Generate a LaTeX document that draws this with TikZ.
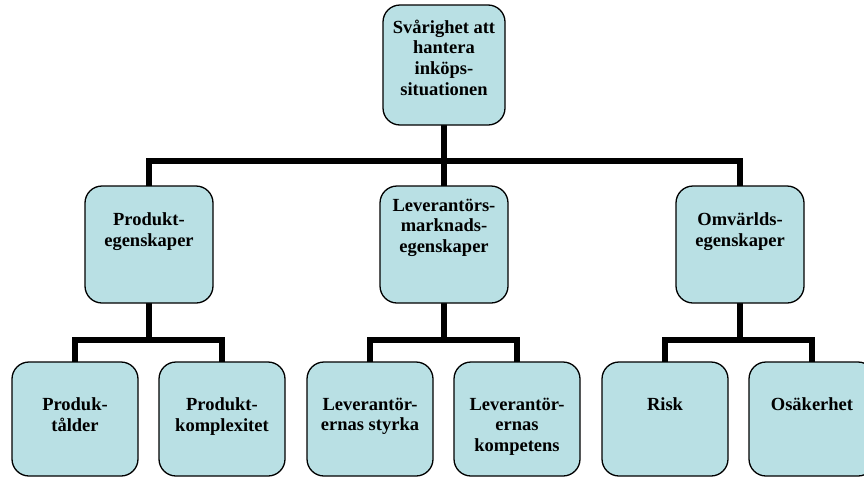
\documentclass[tikz,border=0pt]{standalone}
\usepackage{fontspec}
\setmainfont{Liberation Serif}
\usetikzlibrary{backgrounds}
\definecolor{boxfill}{RGB}{185,224,228}
\begin{document}
\begin{tikzpicture}[x=1pt,y=-1pt,
  box/.style={draw=black,line width=1.3pt,fill=boxfill,rounded corners=17pt,
    inner sep=0pt,minimum width=#1},
  box/.default=126,
  txt/.style={anchor=north,inner sep=0pt,align=center,
    font=\fontsize{18.5}{20.8}\selectfont\bfseries},
  conn/.style={line width=5.5pt,line join=miter,line cap=rect}]
\useasboundingbox (0,0) rectangle (864,477);
\clip (0,0) rectangle (864,477);

% top level
\node[box=122,minimum height=120] (top) at (444,65) {};
% second level
\node[box=128,minimum height=117] (prod) at (149,244.5) {};
\node[box=128,minimum height=117] (lev)  at (444,244.5) {};
\node[box=128,minimum height=117] (omv)  at (740,244.5) {};
% third level
\node[box,minimum height=114] (alder)  at (75,419) {};
\node[box,minimum height=114] (komp)   at (222,419) {};
\node[box,minimum height=114] (styrka) at (370,419) {};
\node[box,minimum height=114] (kompet) at (517,419) {};
\node[box,minimum height=114] (risk)   at (665,419) {};
\node[box,minimum height=114] (osak)   at (812,419) {};

% bus coordinates of the tree connectors
\coordinate (bus1) at (444,161);
\coordinate (busp) at (149,340);
\coordinate (busl) at (444,340);
\coordinate (buso) at (740,340);

\begin{pgfonlayer}{background}
\draw[conn] (top.south) -- (bus1) -| (prod.north);
\draw[conn] (bus1) -| (omv.north);
\draw[conn] (bus1) -- (lev.north);
\draw[conn] (prod.south) -- (busp) -| (alder.north);
\draw[conn] (busp) -| (komp.north);
\draw[conn] (lev.south) -- (busl) -| (styrka.north);
\draw[conn] (busl) -| (kompet.north);
\draw[conn] (omv.south) -- (buso) -| (risk.north);
\draw[conn] (buso) -| (osak.north);
\end{pgfonlayer}

% labels
\node[txt] (top-t)    at (444,19.5)  {Svårighet att\\hantera\\inköps-\\situationen};
\node[txt] (prod-t)   at (149,212.5) {Produkt-\\egenskaper};
\node[txt] (lev-t)    at (444,198.5) {Leverantörs-\\marknads-\\egenskaper};
\node[txt] (omv-t)    at (740,212.5) {Omvärlds-\\egenskaper};
\node[txt] (alder-t)  at (75,397.5)  {Produk-\\tålder};
\node[txt] (komp-t)   at (222,397.5) {Produkt-\\komplexitet};
\node[txt] (styrka-t) at (370,397.5) {Leverantör-\\ernas styrka};
\node[txt] (kompet-t) at (517,397.5) {Leverantör-\\ernas\\kompetens};
\node[txt] (risk-t)   at (665,397.5) {Risk};
\node[txt] (osak-t)   at (812,397.5) {Osäkerhet};
\end{tikzpicture}
\end{document}
